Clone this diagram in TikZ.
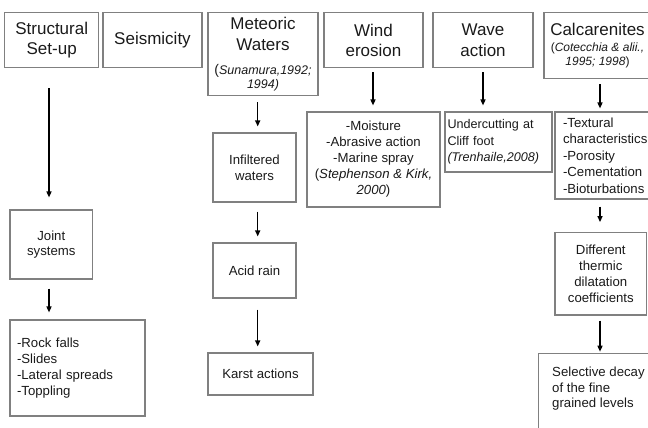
\documentclass[tikz,border=0pt]{standalone}
\usepackage{fontspec}
\setmainfont{Liberation Sans}
\usetikzlibrary{arrows.meta}
\definecolor{boxgray}{HTML}{808080}
\definecolor{inkc}{HTML}{1A1A1A}
\tikzset{
  box/.style={draw=boxgray, line width=1.1pt, inner sep=0pt, align=center, text=inkc},
  ttl/.style={font=\fontsize{17}{20.5}\selectfont},
  sml/.style={font=\fontsize{13.2}{15.8}\selectfont},
  txt/.style={inner sep=0pt, text=inkc, align=left, font=\fontsize{13.2}{15.8}\selectfont},
  arr/.style={draw=black, line width=1.4pt, -{Triangle[length=6pt,width=5pt]}},
}
\newcommand{\bigttl}{\fontsize{17}{20.5}\selectfont}
\newcommand{\citfont}{\fontsize{12.5}{14}\selectfont\itshape}
\begin{document}
\begin{tikzpicture}[x=1pt,y=-1pt]
\useasboundingbox (0,0) rectangle (648,428);
\clip (0,0) rectangle (648,428);
% column x positions for arrows
\coordinate (xs) at (49,0);
\coordinate (xm) at (257.7,0);
\coordinate (xw) at (373,0);
\coordinate (xv) at (483,0);
\coordinate (xc) at (600,0);
% top row
\node[box,ttl,minimum width=94,minimum height=55] (struct) at (51.7,40.2) {Structural\\Set-up};
\node[box,ttl,minimum width=99,minimum height=55] (seis) at (152.5,40.2) {Seismicity};
\node[box,ttl,minimum width=110,minimum height=83] (meteo) at (263,54.2) {Meteoric\\Waters\\[3.5pt]{\fontsize{14}{14}\selectfont(}{\citfont Sunamura,1992;}\\[-6.8pt]{\citfont 1994)}};
\node[box,ttl,minimum width=99,minimum height=55] (wind) at (373.5,40.2) {Wind\\erosion};
\node[box,ttl,minimum width=100,minimum height=55] (wave) at (483,40.2) {Wave\\action};
\node[box,minimum width=107,minimum height=66,font=\fontsize{12}{14.4}\selectfont] (calc) at (597.5,45.7) {{\bigttl Calcarenites}\\[1.3pt](\textit{Cotecchia \& alii.,}\\\textit{1995; 1998})};
% left column
\node[box,sml,minimum width=82.7,minimum height=69] (joint) at (51.3,244.5) {Joint\\systems};
\node[box,sml,align=left,text width=121,inner xsep=7pt,minimum height=96] (rock) at (77.5,368) {-Rock falls\\-Slides\\-Lateral spreads\\-Toppling};
% meteoric column
\node[box,sml,minimum width=83,minimum height=69] (infil) at (254.5,167.5) {Infiltered\\waters};
\node[box,sml,minimum width=83,minimum height=55] (acid) at (254.5,270.5) {Acid rain};
\node[box,sml,minimum width=105,minimum height=42] (karst) at (260.5,374) {Karst actions};
% wind column
\node[box,minimum width=133,minimum height=95,font=\fontsize{13.2}{16}\selectfont] (moist) at (373.5,159.5) {-Moisture\\-Abrasive action\\-Marine spray\\(\textit{Stephenson \& Kirk,}\\\textit{2000})};
% wave column
\node[box,align=left,text width=102,inner xsep=2.5pt,minimum height=60,font=\fontsize{12.6}{16.5}\selectfont] (under) at (498.5,142) {Undercutting at\\Cliff foot\\\textit{(Trenhaile,2008)}};
% calcarenites column
\node[box,align=left,text width=94,inner xsep=8pt,minimum height=87,font=\fontsize{13.2}{16.6}\selectfont] (textu) at (610,155.5) {-Textural\\characteristics\\-Porosity\\-Cementation\\-Bioturbations};
\node[box,minimum width=91.7,minimum height=82.3,font=\fontsize{13.2}{16}\selectfont] (diff) at (600.8,273.8) {Different\\thermic\\dilatation\\coefficients};
\node[box,minimum width=130,minimum height=100,anchor=north west] (sel) at (538,352.7) {};
\node[txt,anchor=north west] (selt) at (552,366.5) {Selective decay\\of the fine\\grained levels};
% arrows
\draw[arr,shorten <=20pt,shorten >=12pt] (struct.south -| xs) -- (joint.north -| xs);
\draw[arr,shorten <=9pt,shorten >=7pt] (joint.south -| xs) -- (rock.north -| xs);
\draw[arr,shorten <=6pt,shorten >=6pt] (meteo.south -| xm) -- (infil.north -| xm);
\draw[arr,shorten <=9pt,shorten >=6pt] (infil.south -| xm) -- (acid.north -| xm);
\draw[arr,shorten <=11pt,shorten >=6pt] (acid.south -| xm) -- (karst.north -| xm);
\draw[arr,shorten <=4pt,shorten >=6pt] (wind.south -| xw) -- (moist.north -| xw);
\draw[arr,shorten <=4pt,shorten >=6pt] (wave.south -| xv) -- (under.north -| xv);
\draw[arr,shorten <=5pt,shorten >=3pt] (calc.south -| xc) -- (textu.north -| xc);
\draw[arr,shorten <=7pt,shorten >=10pt] (textu.south -| xc) -- (diff.north -| xc);
\draw[arr,shorten <=5pt,shorten >=1pt] (diff.south -| xc) -- (sel.north -| xc);
\end{tikzpicture}
\end{document}
